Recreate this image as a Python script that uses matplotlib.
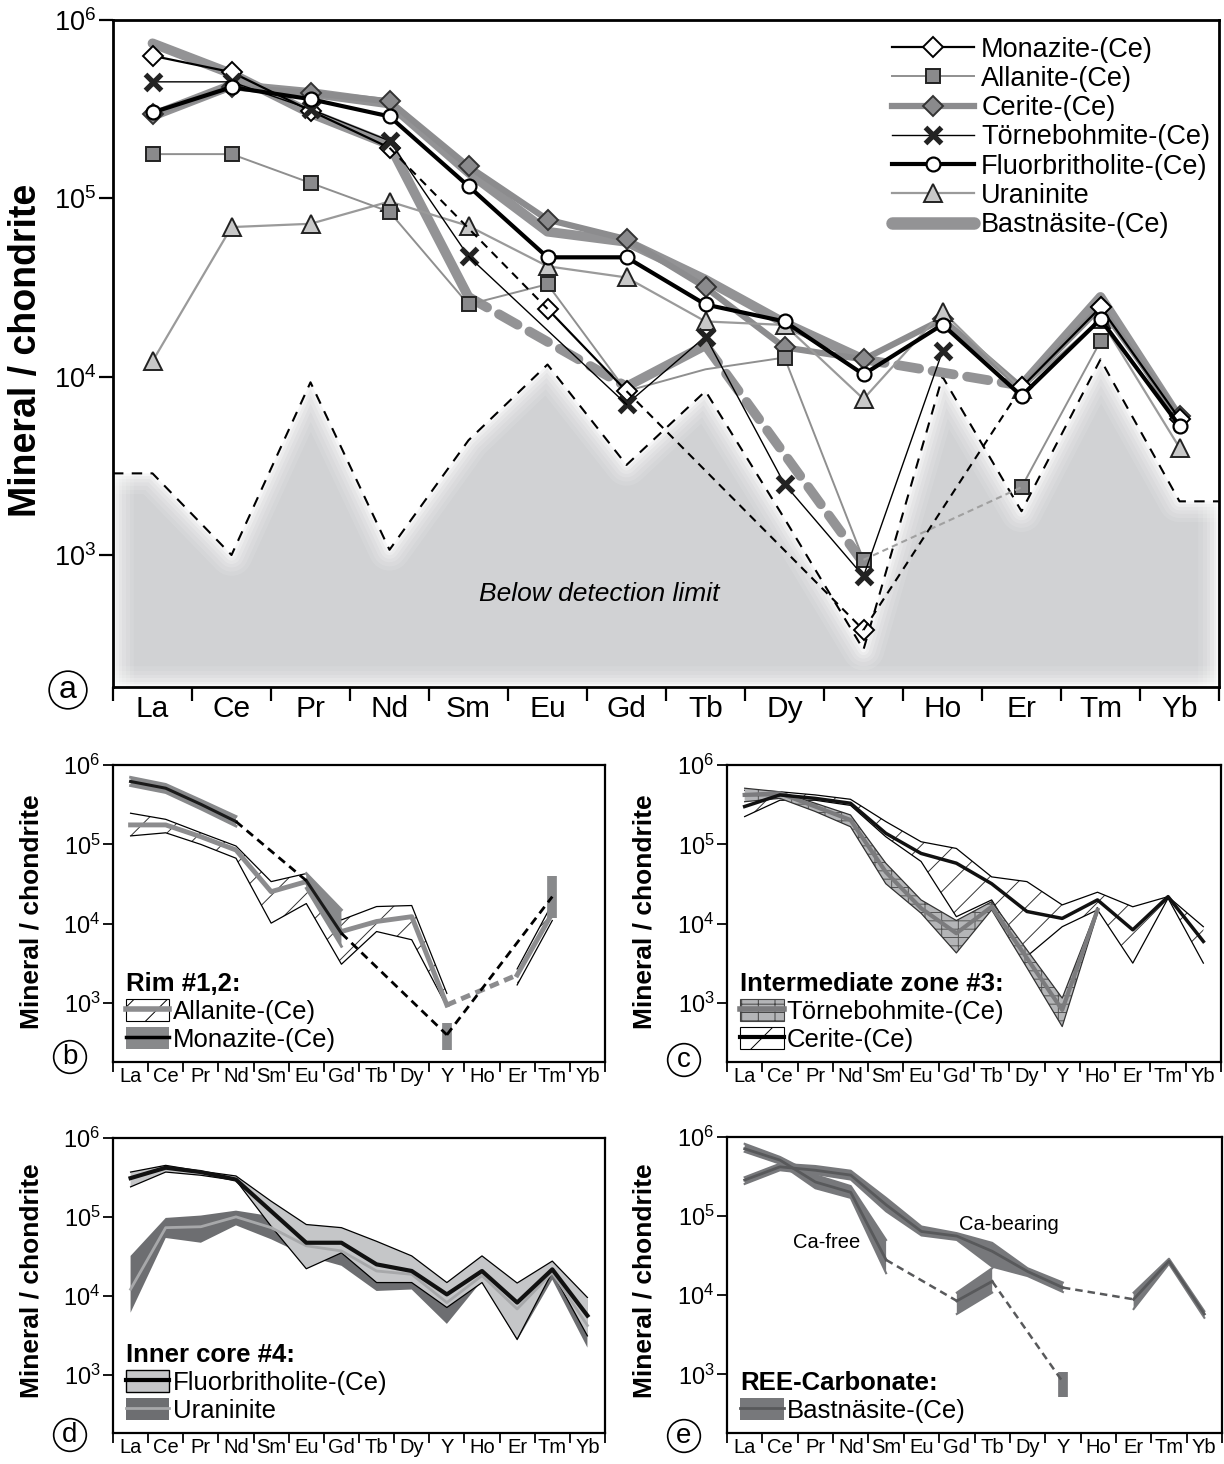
import matplotlib
matplotlib.use("Agg")
import matplotlib.pyplot as plt
import numpy as np
from matplotlib.lines import Line2D
from matplotlib.patches import Patch
from matplotlib.ticker import FixedLocator, NullLocator

plt.rcParams['font.family'] = ['Liberation Sans', 'DejaVu Sans']
plt.rcParams['mathtext.fontset'] = 'custom'
plt.rcParams['mathtext.rm'] = 'Liberation Sans'
plt.rcParams['hatch.linewidth'] = 0.7

N = np.nan
ree = ['La', 'Ce', 'Pr', 'Nd', 'Sm', 'Eu', 'Gd', 'Tb', 'Dy', 'Y', 'Ho', 'Er', 'Tm', 'Yb']

# --- panel a: single analyses ---
monazite = [6.3e5, 5.1e5, 3.1e5, 1.92e5, N, 2.4e4, 8.3e3, N, N, 380, N, 8.7e3, 2.45e4, 5.8e3]
allanite = [1.77e5, 1.77e5, 1.22e5, 8.4e4, 2.54e4, 3.3e4, 8.3e3, 1.1e4, 1.28e4, 940, N, 2.4e3, 1.58e4, N]
allanite_marked = [0, 1, 2, 3, 4, 5, 8, 9, 11, 12]
cerite = [2.96e5, 4.2e5, 3.9e5, 3.5e5, 1.51e5, 7.6e4, 5.9e4, 3.17e4, 1.46e4, 1.25e4, 2.1e4, 8.7e3, 2.45e4, 6.0e3]
tornebohmite = [4.5e5, 4.5e5, 3.16e5, 2.1e5, 4.73e4, N, 7.0e3, 1.68e4, 2.5e3, 760, 1.39e4, N, N, N]
fluorbritholite = [3.03e5, 4.2e5, 3.6e5, 2.88e5, 1.17e5, 4.67e4, 4.67e4, 2.54e4, 2.04e4, 1.03e4, 1.96e4, 7.8e3, 2.1e4, 5.3e3]
uraninite = [1.22e4, 6.9e4, 7.2e4, 9.6e4, 7.0e4, 4.16e4, 3.6e4, 2.04e4, 1.95e4, 7.5e3, 2.32e4, 8.5e3, 2.1e4, 4.0e3]
bast_cafree = [7.4e5, 5.0e5, 3.0e5, 2.0e5, 2.8e4, N, 8.8e3, 1.5e4, N, 900, N, N, N, N]
bast_cabear = [2.9e5, 4.3e5, 3.9e5, 3.4e5, 1.4e5, 6.5e4, 5.7e4, 3.5e4, 2.0e4, 1.25e4, N, 8.9e3, 2.8e4, 5.8e3]
det_limit = [2.87e3, 1.0e3, 9.3e3, 1.07e3, 4.4e3, 1.17e4, 3.2e3, 8.3e3, 1.6e3, 295, 1.0e4, 1.76e3, 1.25e4, 2.0e3]

# --- panel b: rim #1,2 ---
b_all_mid = [1.76e5, 1.76e5, 1.25e5, 8.5e4, 2.54e4, 3.4e4, 8.0e3, 1.07e4, 1.23e4, 950, N, 2.27e3, 1.36e4, N]
b_all_hi = [2.47e5, 2.07e5, 1.4e5, 9.55e4, 3.4e4, 4.3e4, 1.12e4, 1.65e4, 1.7e4, 1.33e3, N, 2.7e3, 1.8e4, N]
b_all_lo = [1.28e5, 1.4e5, 1.0e5, 6.7e4, 1.02e4, 1.8e4, 3.1e3, 8.0e3, 6.3e3, 908, N, 1.7e3, 1.1e4, N]
b_mon_mid = [6.2e5, 5.1e5, 3.2e5, 1.94e5, N, 3.5e4, 7.6e3, N, N, 400, N, N, 2.2e4, N]
b_mon_hi = [7.0e5, 5.7e5, 3.6e5, 2.25e5, N, 4.3e4, 1.5e4, N, N, 560, N, N, 4.0e4, N]
b_mon_lo = [5.5e5, 4.5e5, 2.8e5, 1.7e5, N, 2.8e4, 5.2e3, N, N, 258, N, N, 1.2e4, N]

# --- panel c: intermediate zone #3 ---
c_tor_mid = [4.2e5, 4.4e5, 3.0e5, 2.03e5, 4.5e4, 1.57e4, 7.6e3, 1.64e4, 3.7e3, 824, 1.5e4, N, N, N]
c_tor_hi = [5.1e5, 4.6e5, 3.3e5, 2.35e5, 5.8e4, 2.0e4, 1.1e4, 1.9e4, 4.7e3, 1.16e3, 1.6e4, N, N, N]
c_tor_lo = [3.45e5, 3.8e5, 2.6e5, 1.67e5, 3.2e4, 1.36e4, 4.3e3, 1.5e4, 2.8e3, 508, 1.36e4, N, N, N]
c_cer_mid = [3.0e5, 4.2e5, 3.8e5, 3.3e5, 1.38e5, 7.7e4, 5.8e4, 3.2e4, 1.43e4, 1.17e4, 2.0e4, 8.4e3, 2.2e4, 6.0e3]
c_cer_hi = [4.8e5, 4.6e5, 4.2e5, 3.7e5, 1.94e5, 1.08e5, 8.9e4, 3.9e4, 3.4e4, 1.73e4, 2.5e4, 1.64e4, 2.2e4, 9.2e3]
c_cer_lo = [2.24e5, 3.6e5, 3.6e5, 3.1e5, 1.25e5, 6.1e4, 1.23e4, 2.0e4, 3.9e3, 9.2e3, 1.5e4, 3.2e3, 2.1e4, 3.2e3]

# --- panel d: inner core #4 ---
d_flu_mid = [3.1e5, 4.2e5, 3.7e5, 2.97e5, 1.18e5, 4.7e4, 4.7e4, 2.5e4, 2.06e4, 1.04e4, 2.06e4, 8.2e3, 2.16e4, 5.6e3]
d_flu_hi = [3.7e5, 4.5e5, 3.8e5, 3.3e5, 1.58e5, 8.0e4, 7.3e4, 4.9e4, 3.2e4, 1.47e4, 3.2e4, 1.45e4, 2.75e4, 9.5e3]
d_flu_lo = [2.4e5, 3.7e5, 3.37e5, 2.9e5, 7.6e4, 2.2e4, 3.5e4, 1.47e4, 1.47e4, 7.1e3, 1.47e4, 2.8e3, 2.0e4, 3.1e3]
d_ura_mid = [1.21e4, 7.3e4, 7.5e4, 1.0e5, 7.3e4, 4.3e4, 3.7e4, 2.06e4, 1.87e4, 8.2e3, 1.8e4, 6.8e3, 1.97e4, 4.2e3]
d_ura_hi = [3.2e4, 9.7e4, 1.04e5, 1.2e5, 1.02e5, 5.7e4, 4.3e4, 2.5e4, 2.4e4, 1.15e4, 2.6e4, 1.1e4, 2.6e4, 9.0e3]
d_ura_lo = [6.1e3, 5.4e4, 4.7e4, 7.8e4, 5.2e4, 3.2e4, 2.4e4, 1.15e4, 1.2e4, 4.4e3, 1.55e4, 2.7e3, 1.6e4, 2.2e3]

# --- panel e: REE carbonate ---
e_free_mid = [7.1e5, 5.1e5, 2.7e5, 2.0e5, 2.8e4, N, 8.5e3, 1.5e4, N, 800, N, N, N, N]
e_free_hi = [8.2e5, 5.6e5, 3.3e5, 2.4e5, 5.0e4, N, 1.08e4, 2.2e4, N, 1.07e3, N, N, N, N]
e_free_lo = [6.5e5, 4.6e5, 2.25e5, 1.7e5, 1.9e4, N, 5.8e3, 1.08e4, N, 519, N, N, N, N]
e_bear_mid = [2.86e5, 4.2e5, 3.8e5, 3.3e5, 1.39e5, 6.4e4, 5.6e4, 3.6e4, 2.0e4, 1.25e4, N, 8.9e3, 2.7e4, 5.8e3]
e_bear_hi = [3.1e5, 4.6e5, 4.3e5, 3.75e5, 1.7e5, 7.4e4, 6.1e4, 4.6e4, 2.2e4, 1.45e4, N, 1.08e4, 2.9e4, 6.3e3]
e_bear_lo = [2.55e5, 3.8e5, 3.4e5, 2.9e5, 1.15e5, 5.7e4, 5.0e4, 2.3e4, 1.75e4, 1.1e4, N, 6.7e3, 2.5e4, 5.2e3]

x = np.arange(len(ree))
W, H = 1224, 1464


def trace(ax, vals, gap=None, **kw):
    # solid line through measured points, optional style for bridging missing elements
    v = np.array(vals, float)
    ax.plot(x, v, **kw)
    if gap is None:
        return
    ok = np.flatnonzero(~np.isnan(v))
    for a, b in zip(ok[:-1], ok[1:]):
        if b - a > 1:
            ax.plot(x[[a, b]], v[[a, b]], **gap)


def runs(v):
    out, start = [], None
    for i, flag in enumerate(~np.isnan(v)):
        if flag and start is None:
            start = i
        if not flag and start is not None:
            out.append((start, i))
            start = None
    if start is not None:
        out.append((start, len(v)))
    return out


def band(ax, lo, hi, color, hatch=None, hatch_color='k', edge=None, edge_lw=0.9, z=1):
    lo = np.array(lo, float)
    hi = np.array(hi, float)
    for a, b in runs(lo):
        if b - a == 1:
            ax.vlines(x[a], lo[a], hi[a], color=color, lw=7, zorder=z)
            continue
        ax.fill_between(x[a:b], lo[a:b], hi[a:b], facecolor=color,
                        edgecolor=hatch_color if hatch else 'none', hatch=hatch,
                        linewidth=0, zorder=z)
    if edge is not None:
        ax.plot(x, lo, color=edge, lw=edge_lw, zorder=z + 0.05)
        ax.plot(x, hi, color=edge, lw=edge_lw, zorder=z + 0.05)


def style(ax, xfs, yfs, spine_lw, tick_len):
    ax.set_yscale('log')
    ax.set_xlim(-0.5, 13.5)
    ax.set_ylim(10 ** 2.26, 1e6)
    ax.yaxis.set_major_locator(FixedLocator([1e3, 1e4, 1e5, 1e6]))
    ax.yaxis.set_minor_locator(NullLocator())
    ax.set_xticks(np.arange(-0.5, 14, 1))
    ax.set_xticklabels([])
    ax.set_xticks(x, ree, minor=True)
    ax.tick_params(axis='x', which='minor', length=0, labelsize=xfs, pad=tick_len * 0.55)
    ax.tick_params(axis='x', which='major', length=tick_len, width=spine_lw * 0.8)
    ax.tick_params(axis='y', which='major', length=tick_len, width=spine_lw * 0.8,
                   labelsize=yfs, pad=2)
    for s in ax.spines.values():
        s.set_linewidth(spine_lw)


fig = plt.figure(figsize=(W / 100, H / 100), dpi=100)


def add_axes(l, t, r, b):
    return fig.add_axes([l / W, 1 - b / H, (r - l) / W, (b - t) / H])


ax_a = add_axes(113, 20, 1219, 687)
ax_b = add_axes(113, 765, 605, 1062)
ax_c = add_axes(727, 765, 1221, 1062)
ax_d = add_axes(113, 1138, 605, 1433)
ax_e = add_axes(727, 1137, 1222, 1433)

# ---------------- panel a ----------------
ax = ax_a
style(ax, 21.5, 19.5, 2.0, 10)
ymin = 10 ** 2.26
xd = np.concatenate([[-0.5], x, [13.5]])
dl = np.array(det_limit, float)
dd = np.concatenate([[dl[0]], dl, [dl[-1]]])
ax.fill_between(xd, ymin, dd, facecolor='#d1d2d4', linewidth=0, zorder=0.5)
# soft white rim inside the grey area
for lw, a in [(30, 0.1), (24, 0.12), (18, 0.15), (13, 0.2), (8, 0.3), (4, 0.5)]:
    ax.plot(xd, dd, color='white', lw=lw, alpha=a, zorder=0.6, solid_joinstyle='round')
    ax.axvline(-0.5, color='white', lw=lw, alpha=a, zorder=0.6)
    ax.axvline(13.5, color='white', lw=lw, alpha=a, zorder=0.6)
    ax.axhline(ymin, color='white', lw=lw, alpha=a, zorder=0.6)
ax.plot(xd, dd, color='k', lw=1.5, ls=(0, (5, 4)), zorder=1)
ax.text(0.44, 0.139, 'Below detection limit', transform=ax.transAxes, ha='center',
        va='center', style='italic', fontsize=19, zorder=1)

bast_kw = dict(color='#939395', lw=7, solid_capstyle='round', zorder=2)
bast_gap = dict(color='#939395', lw=7, ls=(0, (2.2, 1.4)), dash_capstyle='round', zorder=2)
trace(ax, bast_cafree, gap=bast_gap, **bast_kw)
trace(ax, bast_cabear, gap=bast_gap, **bast_kw)

mk_cer = dict(marker='D', ms=10.5, mfc='#8a8a8c', mec='#333333', mew=1.4)
mk_ura = dict(marker='^', ms=12.5, mfc='#c8c8c8', mec='#222222', mew=1.4)
mk_all = dict(marker='s', ms=10, mfc='#8a8a8c', mec='#222222', mew=1.4)
mk_mon = dict(marker='D', ms=10.5, mfc='white', mec='k', mew=1.4)
mk_tor = dict(marker='x', ms=11.5, mew=3.8, mec='#222222')
mk_flu = dict(marker='o', ms=10, mfc='white', mec='k', mew=1.6)

trace(ax, cerite, color='#8c8c8e', lw=4.5, zorder=2.2, **mk_cer)
trace(ax, uraninite, color='#9a9a9a', lw=1.6, zorder=2.4, **mk_ura)
trace(ax, allanite, gap=dict(color='#a0a0a0', lw=1.5, ls=(0, (3, 2)), zorder=2.6),
      color='#8f8f8f', lw=1.4, markevery=allanite_marked, zorder=2.6, **mk_all)
trace(ax, monazite, gap=dict(color='k', lw=1.5, ls=(0, (4, 3)), zorder=2.8),
      color='k', lw=1.6, zorder=2.8, **mk_mon)
trace(ax, tornebohmite, gap=dict(color='k', lw=1.0, zorder=3.0),
      color='k', lw=1.0, zorder=3.0, **mk_tor)
trace(ax, fluorbritholite, color='k', lw=3, zorder=3.2, **mk_flu)

leg_handles = [
    Line2D([], [], color='k', lw=1.6, **mk_mon),
    Line2D([], [], color='#8f8f8f', lw=1.4, **mk_all),
    Line2D([], [], color='#8c8c8e', lw=4.5, **mk_cer),
    Line2D([], [], color='k', lw=1.0, **mk_tor),
    Line2D([], [], color='k', lw=3, **mk_flu),
    Line2D([], [], color='#9a9a9a', lw=1.6, **mk_ura),
    Line2D([], [], color='#939395', lw=9, solid_capstyle='round'),
]
leg_labels = ['Monazite-(Ce)', 'Allanite-(Ce)', 'Cerite-(Ce)', 'Törnebohmite-(Ce)',
              'Fluorbritholite-(Ce)', 'Uraninite', 'Bastnäsite-(Ce)']
ax.legend(leg_handles, leg_labels, loc='upper right', bbox_to_anchor=(0.992, 0.975),
          frameon=False, fontsize=19.5, handlelength=3.05, handletextpad=0.25,
          labelspacing=0.12, borderpad=0, borderaxespad=0)

# ---------------- small panels ----------------
leg_kw = dict(loc='lower left', frameon=False, fontsize=18.5, alignment='left',
              title_fontproperties={'weight': 'bold', 'size': 18.5},
              handlelength=1.7, handleheight=0.95, handletextpad=0.12,
              labelspacing=0.12, borderpad=0, borderaxespad=0)
XFS, YFS = 14.5, 17

# panel b
ax = ax_b
style(ax, XFS, YFS, 1.6, 7)
band(ax, b_all_lo, b_all_hi, 'white', hatch='/', hatch_color='#333333', edge='k', z=1)
trace(ax, b_all_mid, gap=dict(color='#8c8c8e', lw=3.5, ls=(0, (2, 1.2)), zorder=1.5),
      color='#8c8c8e', lw=3.5, zorder=1.5)
band(ax, b_mon_lo, b_mon_hi, '#88898b', edge='#88898b', edge_lw=2, z=2)
trace(ax, b_mon_mid, gap=dict(color='k', lw=2, ls=(0, (3, 2)), zorder=2.5),
      color='#1a1a1a', lw=2.2, zorder=2.5)
ax.legend([(Patch(facecolor='white', edgecolor='k', hatch='/', lw=0.8),
            Line2D([], [], color='#8c8c8e', lw=4)),
           (Patch(facecolor='#88898b', edgecolor='none'),
            Line2D([], [], color='k', lw=2.5))],
          ['Allanite-(Ce)', 'Monazite-(Ce)'], title='Rim #1,2:',
          bbox_to_anchor=(0.026, 0.035), **leg_kw)

# panel c
ax = ax_c
style(ax, XFS, YFS, 1.6, 7)
band(ax, c_cer_lo, c_cer_hi, 'white', hatch='/', hatch_color='#333333', edge='k', z=1)
band(ax, c_tor_lo, c_tor_hi, '#b4b5b7', hatch='--|', hatch_color='#555555', edge='#333333', z=1.2)
trace(ax, c_tor_mid, color='#7b7b7d', lw=3, zorder=1.5)
trace(ax, c_cer_mid, color='#111111', lw=2.5, zorder=1.6)
ax.legend([(Patch(facecolor='#b4b5b7', edgecolor='#444444', hatch='--|', lw=0.8),
            Line2D([], [], color='#7b7b7d', lw=4)),
           (Patch(facecolor='white', edgecolor='k', hatch='/', lw=0.8),
            Line2D([], [], color='k', lw=3))],
          ['Törnebohmite-(Ce)', 'Cerite-(Ce)'], title='Intermediate zone #3:',
          bbox_to_anchor=(0.026, 0.035), **leg_kw)

# panel d
ax = ax_d
style(ax, XFS, YFS, 1.6, 7)
band(ax, d_ura_lo, d_ura_hi, '#6d6e71', z=1)
band(ax, d_flu_lo, d_flu_hi, '#c5c6c8', edge='k', z=1.2)
trace(ax, d_ura_mid, color='#a7a8aa', lw=2, zorder=1.5)
trace(ax, d_flu_mid, color='#111111', lw=3, zorder=1.6)
ax.legend([(Patch(facecolor='#c5c6c8', edgecolor='k', lw=1),
            Line2D([], [], color='k', lw=3)),
           (Patch(facecolor='#6d6e71', edgecolor='none'),
            Line2D([], [], color='#a7a8aa', lw=2))],
          ['Fluorbritholite-(Ce)', 'Uraninite'], title='Inner core #4:',
          bbox_to_anchor=(0.026, 0.035), **leg_kw)

# panel e
ax = ax_e
style(ax, XFS, YFS, 1.6, 7)
band(ax, e_free_lo, e_free_hi, '#77787b', edge='#77787b', edge_lw=1.5, z=1)
band(ax, e_bear_lo, e_bear_hi, '#77787b', edge='#77787b', edge_lw=1.5, z=1)
e_gap = dict(color='#58595b', lw=1.8, ls=(0, (3, 2)), zorder=1.5)
trace(ax, e_free_mid, gap=e_gap, color='#58595b', lw=2, zorder=1.5)
trace(ax, e_bear_mid, gap=e_gap, color='#58595b', lw=2, zorder=1.5)
ax.text(0.202, 0.642, 'Ca-free', transform=ax.transAxes, ha='center', va='center', fontsize=14.5)
ax.text(0.57, 0.703, 'Ca-bearing', transform=ax.transAxes, ha='center', va='center', fontsize=14.5)
ax.legend([(Patch(facecolor='#77787b', edgecolor='none'),
            Line2D([], [], color='#58595b', lw=2))],
          ['Bastnäsite-(Ce)'], title='REE-Carbonate:',
          bbox_to_anchor=(0.026, 0.035), **leg_kw)

# y labels and panel letters
for xp, yp, fs in [(26, 350, 27), (32, 912, 19), (644, 912, 19), (32, 1281, 19), (644, 1281, 19)]:
    fig.text(xp / W, 1 - yp / H, 'Mineral / chondrite', rotation=90, ha='center', va='center',
             fontsize=fs, fontweight='bold')
for xp, yp, letter, fs in [(68, 690, 'a', 23), (70, 1057, 'b', 20), (684, 1060, 'c', 20),
                           (70, 1435, 'd', 20), (684, 1436, 'e', 20)]:
    fig.text(xp / W, 1 - yp / H, letter, ha='center', va='center', fontsize=fs,
             bbox=dict(boxstyle='circle,pad=0.12', facecolor='white', edgecolor='k', lw=1.2))

fig.savefig('out.png', dpi=100)
